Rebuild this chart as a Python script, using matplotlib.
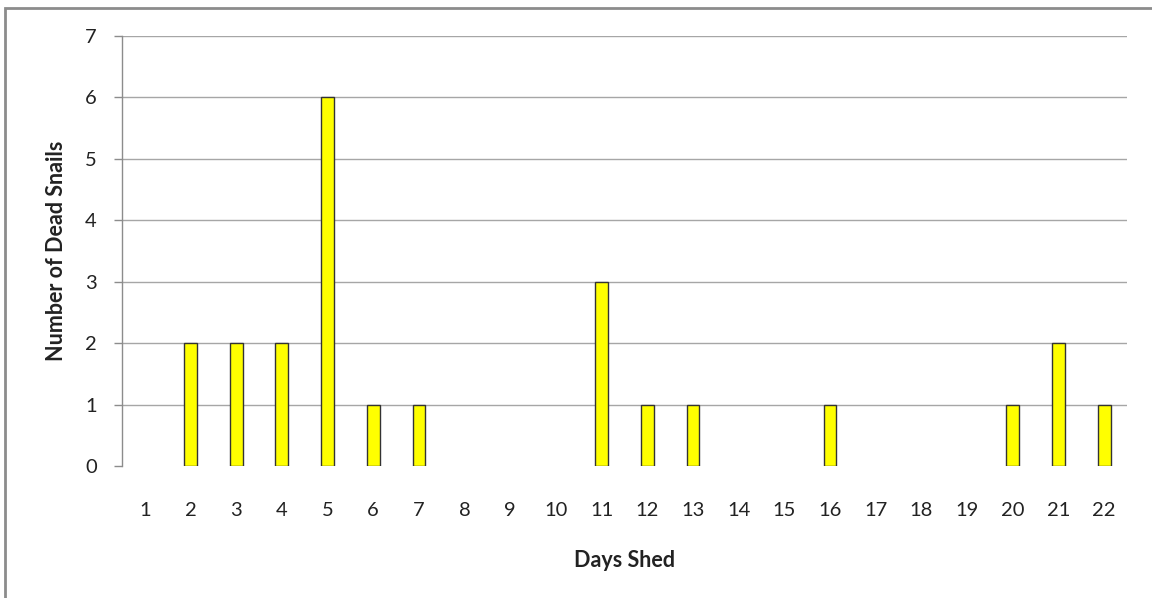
import matplotlib
matplotlib.use("Agg")
import matplotlib.pyplot as plt
from matplotlib.patches import Rectangle

days = list(range(1, 23))
dead = [0, 2, 2, 2, 6, 1, 1, 0, 0, 0, 3, 1, 1, 0, 0, 1, 0, 0, 0, 1, 2, 1]
yticks = [0, 1, 2, 3, 4, 5, 6, 7]

plt.rcParams['font.family'] = ['Lato', 'DejaVu Sans']

W, H = 1152, 598
fig = plt.figure(figsize=(W / 100, H / 100), dpi=100)
fig.patch.set_facecolor('white')

# outer chart border
fig.patches.append(Rectangle((5 / W, 0 - 0.01), 1.05, 1 - 8 / H + 0.01,
                             transform=fig.transFigure, fill=False,
                             edgecolor='#8c8c8c', lw=2, zorder=0))

ax = fig.add_axes([122 / W, 1 - 466 / H, (1127 - 122) / W, (466 - 36) / H])
bars = ax.bar(days, dead, width=0.28, color='#ffff00', edgecolor='#333333', lw=1, zorder=3)
for b, v in zip(bars, dead):
    if v == 0:
        b.set_visible(False)

ax.set_xlim(0.5, 22.5)
ax.set_ylim(0, 7)
ax.set_yticks(yticks)
ax.set_xticks(days)
ax.set_xticklabels([str(d) for d in days])
ax.grid(axis='y', color='#a6a6a6', lw=1, zorder=0)
ax.set_axisbelow(True)
fig.canvas.draw()
ax.yaxis.get_gridlines()[0].set_visible(False)
for s in ['top', 'right', 'bottom']:
    ax.spines[s].set_visible(False)
ax.spines['left'].set_color('#8c8c8c')
ax.spines['left'].set_linewidth(1)
ax.tick_params(axis='y', length=6, color='#8c8c8c', width=1, labelsize=14.5,
               labelcolor='#222222', pad=12)
ax.tick_params(axis='x', length=0, labelsize=14.5, labelcolor='#222222', pad=26)

ax.set_xlabel('Days Shed', fontsize=15.5, fontweight='bold', color='#222222', labelpad=22)
ax.set_ylabel('Number of Dead Snails', fontsize=15.5, fontweight='bold', color='#222222', labelpad=13)

fig.savefig('out.png', dpi=100)
